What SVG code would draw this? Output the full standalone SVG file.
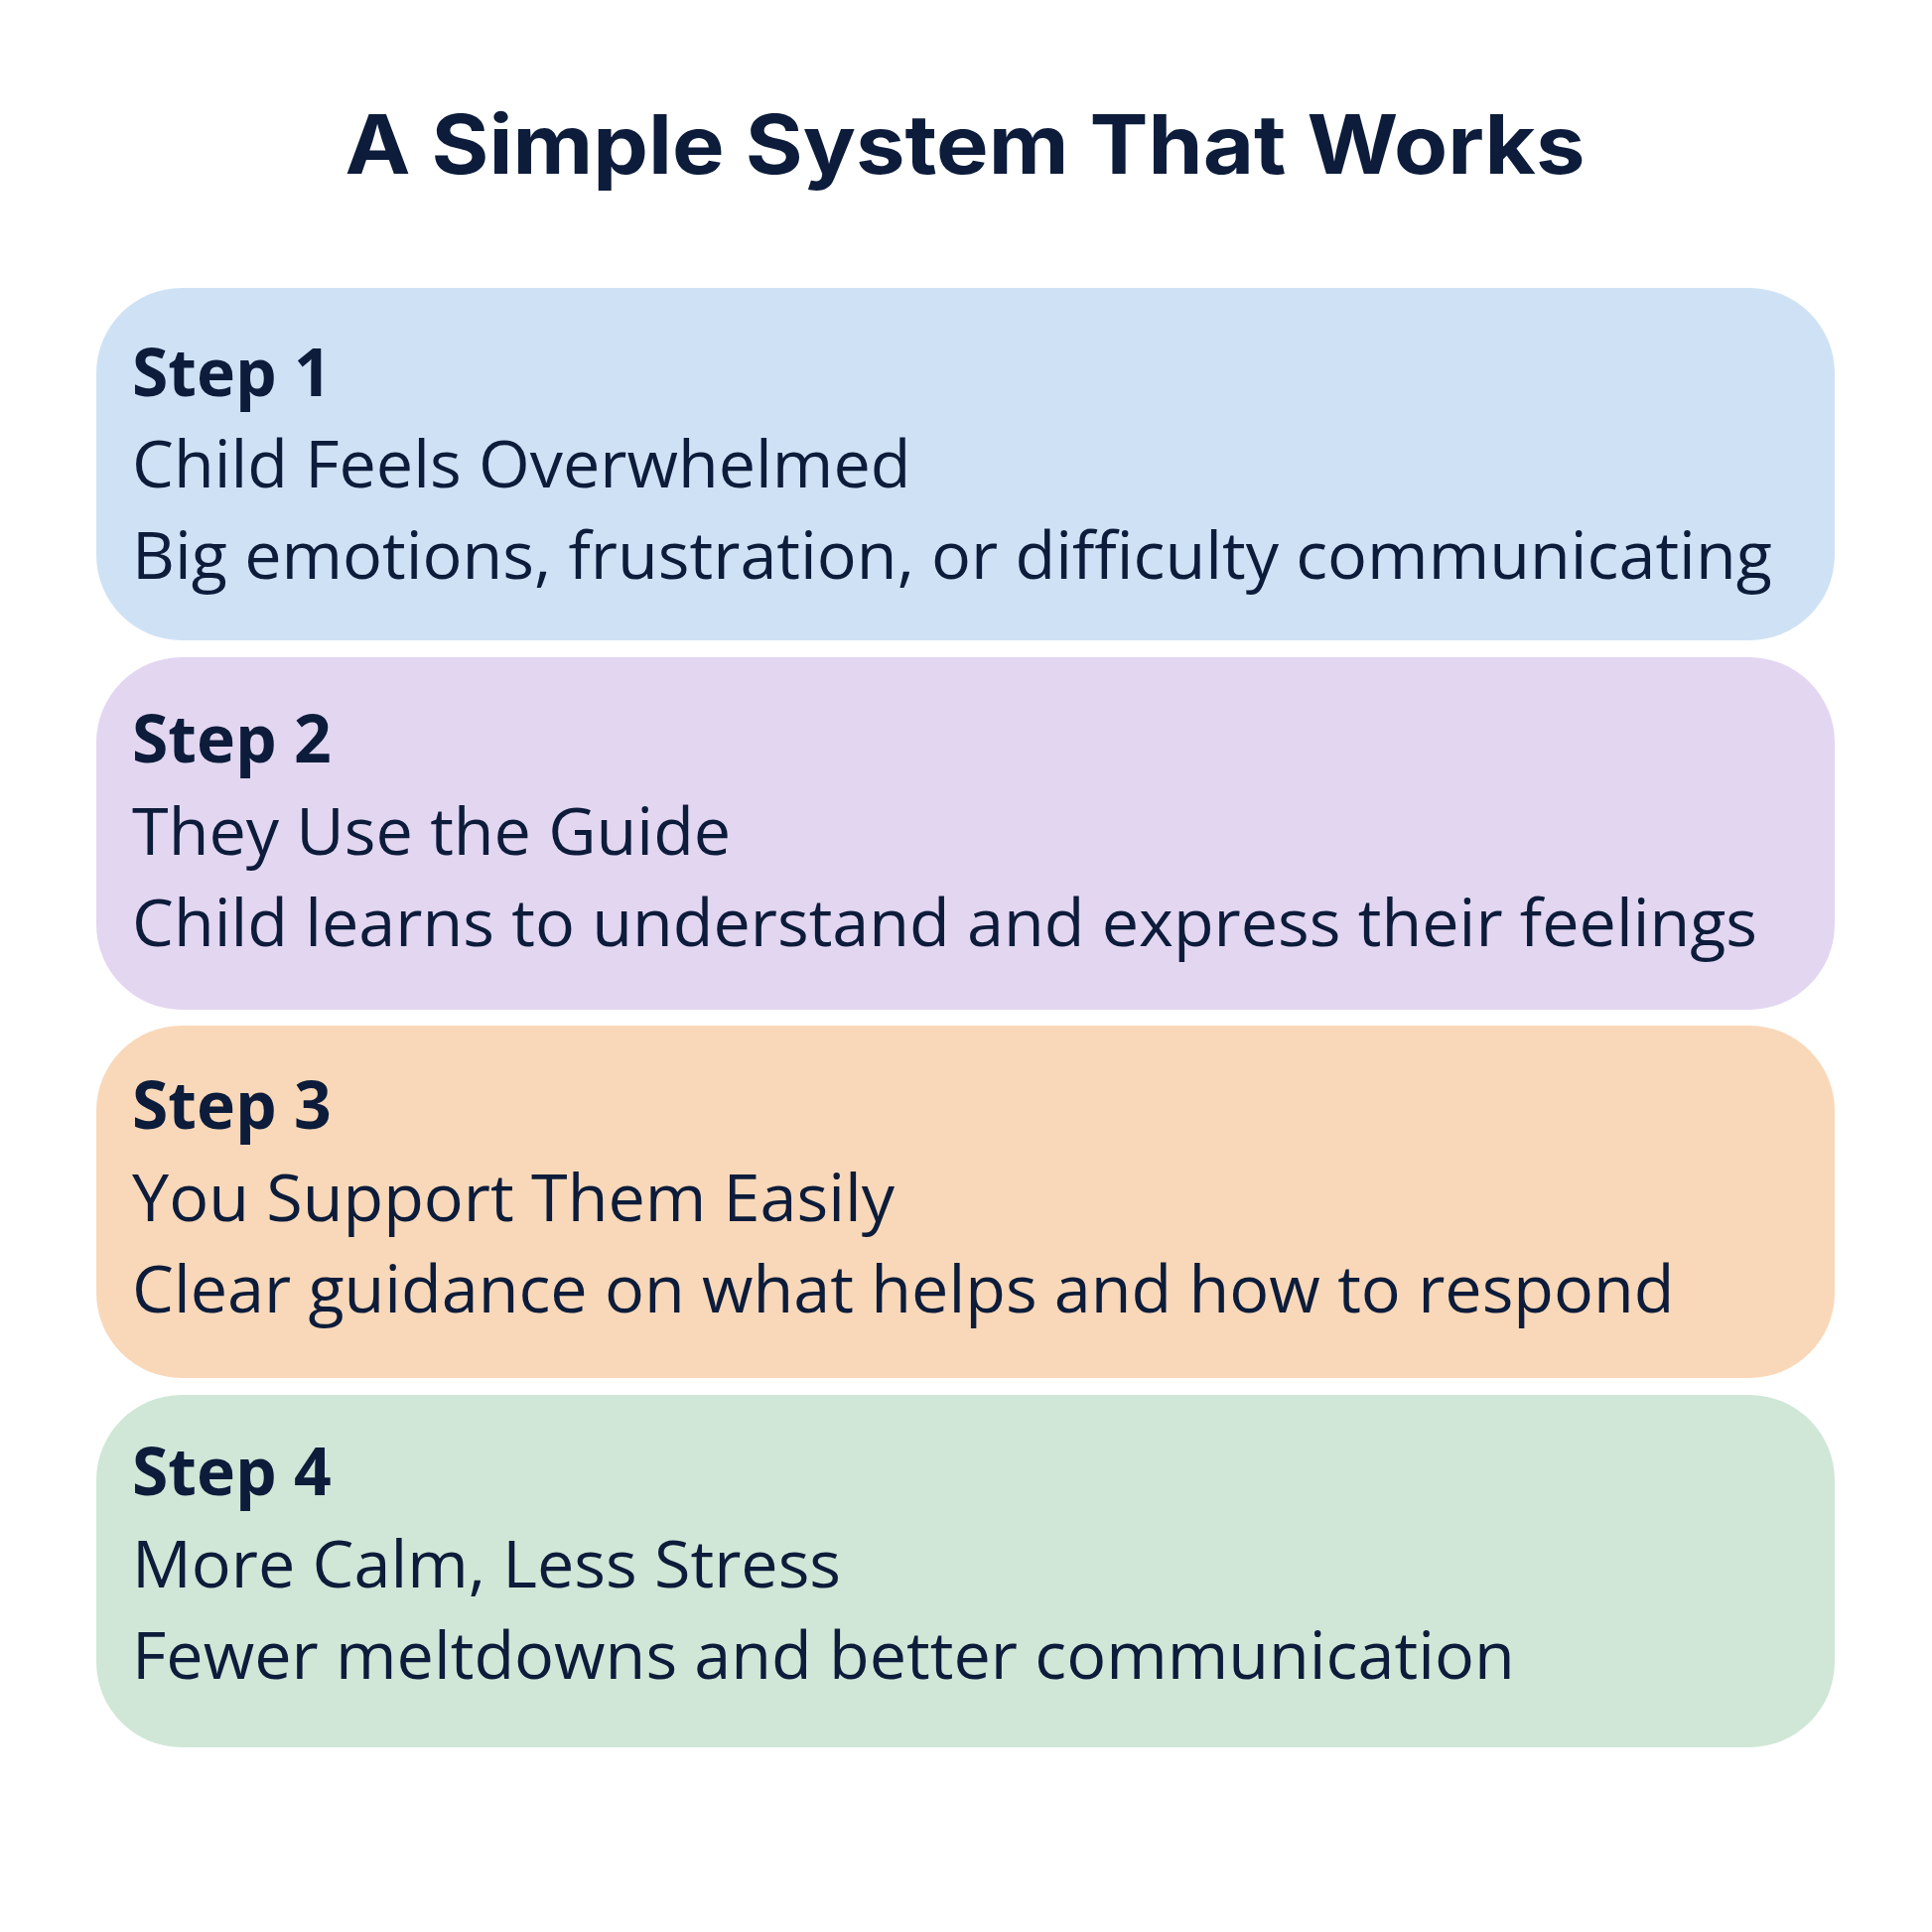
<svg xmlns="http://www.w3.org/2000/svg" width="1946" height="1946" viewBox="0 0 1946 1946">
<style>
  .title { font-family: "Inter", "Open Sans", "Liberation Sans", sans-serif; font-weight: 700; font-size: 82px; fill: #0c1c3a; }
  .step { font-family: "Open Sans", "Noto Sans", "Liberation Sans", sans-serif; font-weight: 700; font-size: 66px; fill: #0c1c3a; }
  .txt { font-family: "Open Sans", "Noto Sans", "Liberation Sans", sans-serif; font-weight: 400; font-size: 66.5px; fill: #0c1c3a; }
</style>
<rect width="1946" height="1946" fill="#ffffff"/>
<text class="title" x="972" y="175" text-anchor="middle" textLength="1249" lengthAdjust="spacingAndGlyphs">A Simple System That Works</text>
<g id="connectors"></g>
<g id="step1">
  <rect x="97" y="290" width="1751" height="355" rx="86" fill="#cfe2f5"/>
  <text class="step" x="133" y="399">Step 1</text>
  <text class="txt" x="133" y="491">Child Feels Overwhelmed</text>
  <text class="txt" x="133" y="583">Big emotions, frustration, or difficulty communicating</text>
</g>
<g id="step2">
  <rect x="97" y="662" width="1751" height="355" rx="86" fill="#e3d6f1"/>
  <text class="step" x="133" y="768">Step 2</text>
  <text class="txt" x="133" y="861">They Use the Guide</text>
  <text class="txt" x="133" y="953">Child learns to understand and express their feelings</text>
</g>
<g id="step3">
  <rect x="97" y="1033" width="1751" height="355" rx="86" fill="#f9d8b9"/>
  <text class="step" x="133" y="1137">Step 3</text>
  <text class="txt" x="133" y="1230">You Support Them Easily</text>
  <text class="txt" x="133" y="1322">Clear guidance on what helps and how to respond</text>
</g>
<g id="step4">
  <rect x="97" y="1405" width="1751" height="355" rx="86" fill="#d0e7d7"/>
  <text class="step" x="133" y="1506">Step 4</text>
  <text class="txt" x="133" y="1599">More Calm, Less Stress</text>
  <text class="txt" x="133" y="1691">Fewer meltdowns and better communication</text>
</g>
</svg>
